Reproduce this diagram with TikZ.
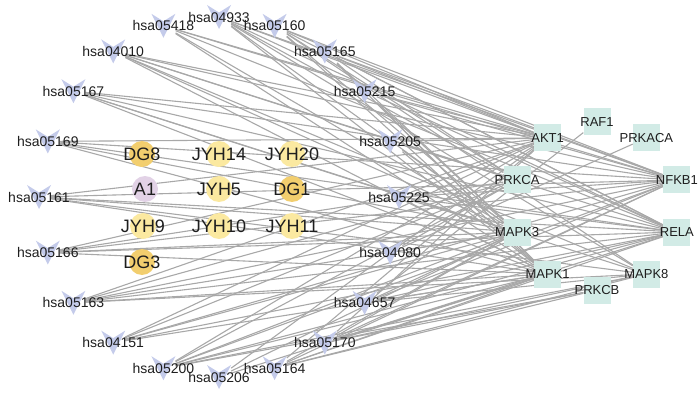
\documentclass[tikz,border=0pt]{standalone}
\usepackage{fontspec}
\setmainfont{Liberation Sans}
\definecolor{vcol}{RGB}{196,203,234}
\definecolor{jyhcol}{RGB}{251,233,160}
\definecolor{dgcol}{RGB}{242,206,110}
\definecolor{acol}{RGB}{226,210,230}
\definecolor{tcol}{RGB}{210,235,230}
\definecolor{ecol}{RGB}{168,168,168}
\definecolor{txtcol}{RGB}{30,30,30}
\pgfdeclarelayer{edges}
\pgfsetlayers{edges,main}

\begin{document}
\begin{tikzpicture}[x=1pt, y=-1pt,
  edge/.style={draw=ecol, line width=1.1pt},
  path/.style={rectangle, minimum size=24pt, inner sep=0pt,
    label distance=0pt,
    path picture={\fill[vcol] (path picture bounding box.north west)
      -- ([yshift=-7.5pt]path picture bounding box.north)
      -- (path picture bounding box.north east)
      -- (path picture bounding box.south) -- cycle;}},
  pathtext/.style={text=txtcol, font=\fontsize{14}{16}\selectfont, inner sep=0pt},
  drug/.style={circle, minimum size=26pt, inner sep=0pt},
  drugtext/.style={text=txtcol, font=\fontsize{18}{20}\selectfont, inner sep=0pt},
  target/.style={rectangle, fill=tcol, minimum size=27pt, inner sep=0pt},
  targettext/.style={text=txtcol, font=\fontsize{13}{15}\selectfont, inner sep=0pt}]
\useasboundingbox (0,0) rectangle (700,395);
% pathways on the large circle
\node[path, label={[pathtext]center:hsa04933}] (h04933) at (219,17) {};
\node[path, label={[pathtext]center:hsa05160}] (h05160) at (274.6,25.8) {};
\node[path, label={[pathtext]center:hsa05165}] (h05165) at (324.8,51.4) {};
\node[path, label={[pathtext]center:hsa05215}] (h05215) at (364.6,91.2) {};
\node[path, label={[pathtext]center:hsa05205}] (h05205) at (390.2,141.4) {};
\node[path, label={[pathtext]center:hsa05225}] (h05225) at (399,197) {};
\node[path, label={[pathtext]center:hsa04080}] (h04080) at (390.2,252.6) {};
\node[path, label={[pathtext]center:hsa04657}] (h04657) at (364.6,302.8) {};
\node[path, label={[pathtext]center:hsa05170}] (h05170) at (324.8,342.6) {};
\node[path, label={[pathtext]center:hsa05164}] (h05164) at (274.6,368.2) {};
\node[path, label={[pathtext]center:hsa05206}] (h05206) at (219,377) {};
\node[path, label={[pathtext]center:hsa05200}] (h05200) at (163.4,368.2) {};
\node[path, label={[pathtext]center:hsa04151}] (h04151) at (113.2,342.6) {};
\node[path, label={[pathtext]center:hsa05163}] (h05163) at (73.4,302.8) {};
\node[path, label={[pathtext]center:hsa05166}] (h05166) at (47.8,252.6) {};
\node[path, label={[pathtext]center:hsa05161}] (h05161) at (39,197) {};
\node[path, label={[pathtext]center:hsa05169}] (h05169) at (47.8,141.4) {};
\node[path, label={[pathtext]center:hsa05167}] (h05167) at (73.4,91.2) {};
\node[path, label={[pathtext]center:hsa04010}] (h04010) at (113.2,51.4) {};
\node[path, label={[pathtext]center:hsa05418}] (h05418) at (163.4,25.8) {};
% compounds in the middle
\node[drug, fill=dgcol, label={[drugtext]center:DG8}] (DG8) at (142,154) {};
\node[drug, fill=jyhcol, label={[drugtext]center:JYH14}] (JYH14) at (219,154) {};
\node[drug, fill=jyhcol, label={[drugtext]center:JYH20}] (JYH20) at (292,154) {};
\node[drug, fill=acol, label={[drugtext]center:A1}] (A1) at (145,189) {};
\node[drug, fill=jyhcol, label={[drugtext]center:JYH5}] (JYH5) at (219,189) {};
\node[drug, fill=dgcol, label={[drugtext]center:DG1}] (DG1) at (292,189) {};
\node[drug, fill=jyhcol, label={[drugtext]center:JYH9}] (JYH9) at (143,226) {};
\node[drug, fill=jyhcol, label={[drugtext]center:JYH10}] (JYH10) at (219,226) {};
\node[drug, fill=jyhcol, label={[drugtext]center:JYH11}] (JYH11) at (292,226) {};
\node[drug, fill=dgcol, label={[drugtext]center:DG3}] (DG3) at (142,262) {};
% targets on the small circle
\node[target, label={[targettext]center:RAF1}] (RAF1) at (597,122) {};
\node[target, label={[targettext]center:PRKACA}] (PRKACA) at (646.4,138) {};
\node[target, label={[targettext]center:NFKB1}] (NFKB1) at (676.9,180) {};
\node[target, label={[targettext]center:RELA}] (RELA) at (676.9,232) {};
\node[target, label={[targettext]center:MAPK8}] (MAPK8) at (646.4,274) {};
\node[target, label={[targettext]center:PRKCB}] (PRKCB) at (597,290) {};
\node[target, label={[targettext]center:MAPK1}] (MAPK1) at (547.6,274) {};
\node[target, label={[targettext]center:MAPK3}] (MAPK3) at (517.1,232) {};
\node[target, label={[targettext]center:PRKCA}] (PRKCA) at (517.1,180) {};
\node[target, label={[targettext]center:AKT1}] (AKT1) at (547.6,138) {};
% pathway -- target links
\begin{pgfonlayer}{edges}
\path[edge] (h04933) edge (AKT1) edge (PRKCA) edge (MAPK3) edge (MAPK1) edge (NFKB1) edge (RELA) edge (MAPK8);
\path[edge] (h05418) edge (AKT1) edge (MAPK3) edge (MAPK1) edge (NFKB1) edge (RELA);
\path[edge] (h05160) edge (AKT1) edge (PRKCA) edge (MAPK3) edge (MAPK1) edge (NFKB1) edge (RELA) edge (MAPK8);
\path[edge] (h04010) edge (AKT1) edge (PRKCA) edge (MAPK3) edge (MAPK1) edge (NFKB1) edge (RELA) edge (MAPK8);
\path[edge] (h05165) edge (AKT1) edge (PRKCA) edge (MAPK3) edge (MAPK1) edge (NFKB1) edge (RELA);
\path[edge] (h05167) edge (AKT1) edge (MAPK3) edge (MAPK1) edge (NFKB1) edge (RELA) edge (MAPK8);
\path[edge] (h05215) edge (AKT1) edge (MAPK3) edge (MAPK1) edge (NFKB1) edge (RELA);
\path[edge] (h05169) edge (AKT1) edge (MAPK3) edge (MAPK1) edge (NFKB1) edge (RELA);
\path[edge] (h05205) edge (AKT1) edge (PRKCA) edge (MAPK3) edge (MAPK1);
\path[edge] (h05161) edge (AKT1) edge (MAPK3) edge (MAPK1) edge (NFKB1) edge (RELA) edge (MAPK8);
\path[edge] (h05225) edge (AKT1) edge (MAPK3) edge (MAPK1) edge (NFKB1) edge (RELA);
\path[edge] (h05166) edge (AKT1) edge (PRKCA) edge (MAPK3) edge (MAPK1) edge (NFKB1) edge (RELA);
\path[edge] (h04080) edge (PRKACA) edge (PRKCA) edge (MAPK3);
\path[edge] (h05163) edge (AKT1) edge (PRKCA) edge (MAPK3) edge (MAPK1) edge (NFKB1) edge (RELA) edge (MAPK8);
\path[edge] (h04657) edge (RAF1) edge (MAPK3) edge (MAPK1) edge (NFKB1) edge (RELA) edge (MAPK8);
\path[edge] (h04151) edge (AKT1) edge (PRKCA) edge (MAPK3) edge (MAPK1) edge (NFKB1) edge (RELA);
\path[edge] (h05170) edge (AKT1) edge (PRKCB) edge (MAPK3) edge (MAPK1) edge (NFKB1) edge (RELA) edge (MAPK8);
\path[edge] (h05200) edge (AKT1) edge (PRKCA) edge (PRKCB) edge (MAPK3) edge (MAPK1) edge (NFKB1) edge (RELA) edge (MAPK8);
\path[edge] (h05164) edge (AKT1) edge (PRKCB) edge (MAPK3) edge (MAPK1) edge (NFKB1) edge (RELA) edge (MAPK8);
\path[edge] (h05206) edge (AKT1) edge (MAPK3) edge (MAPK1);
\end{pgfonlayer}
\end{tikzpicture}
\end{document}
